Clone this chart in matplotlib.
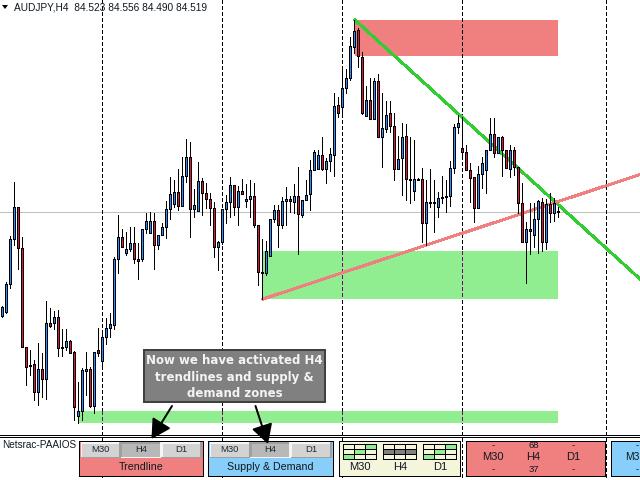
import matplotlib
matplotlib.use("Agg")
import matplotlib.pyplot as plt
from matplotlib.patches import Rectangle, FancyArrowPatch

# candles (smaller = higher price)
opens = [316, 312, 284, 239, 207, 248, 347, 365, 364, 392, 369, 379, 323, 323, 317, 347, 347, 341, 352, 416,
         411, 371, 369, 406, 350, 361, 337, 328, 325, 259, 237, 253, 249, 243, 259, 259, 229, 233, 221, 245,
         235, 227, 209, 204, 192, 206, 176, 157, 209, 211, 181, 193, 199, 208, 247, 242, 209, 202, 185, 207,
         191, 201, 199, 196, 225, 272, 273, 256, 219, 210, 225, 201, 199, 202, 196, 215, 200, 194, 170, 169,
         155, 169, 161, 155, 105, 107, 88, 78, 47, 30, 57, 116, 100, 119, 81, 137, 129, 113, 126, 169,
         158, 136, 179, 191, 179, 179, 223, 202, 202, 207, 198, 197, 196, 168, 127, 148, 152, 170, 177, 208,
         174, 170, 150, 134, 153, 137, 150, 169, 150, 167, 203, 242, 229, 235, 219, 202, 242, 204, 213, 211]
highs = [306, 282, 236, 182, 207, 237, 347, 350, 360, 343, 353, 301, 308, 311, 310, 329, 329, 340, 351, 382,
         368, 352, 367, 352, 328, 333, 318, 313, 257, 215, 229, 232, 227, 227, 243, 229, 213, 212, 213, 235,
         223, 201, 177, 180, 169, 157, 139, 142, 189, 162, 178, 183, 193, 202, 241, 209, 195, 177, 185, 186,
         179, 184, 180, 183, 225, 239, 241, 219, 205, 205, 197, 187, 196, 184, 167, 200, 180, 160, 150, 150,
         137, 158, 148, 93, 97, 70, 69, 37, 20, 28, 52, 86, 78, 78, 74, 93, 101, 101, 113, 136,
         123, 124, 137, 140, 178, 168, 180, 169, 180, 192, 176, 180, 161, 124, 115, 117, 145, 163, 177, 166,
         157, 150, 118, 118, 137, 136, 150, 145, 147, 167, 183, 222, 203, 203, 200, 198, 199, 193, 198, 207]
lows = [317, 313, 288, 245, 269, 347, 385, 375, 400, 405, 397, 399, 327, 329, 356, 356, 350, 353, 420, 423,
        420, 395, 407, 413, 356, 367, 344, 337, 329, 273, 247, 255, 251, 263, 279, 261, 233, 233, 269, 249,
        235, 238, 219, 207, 210, 206, 182, 237, 217, 211, 215, 208, 225, 257, 270, 244, 223, 217, 215, 225,
        194, 207, 217, 227, 285, 299, 275, 256, 222, 247, 228, 225, 212, 213, 254, 217, 200, 210, 170, 169,
        170, 183, 171, 176, 117, 113, 93, 80, 53, 67, 114, 116, 119, 119, 137, 167, 132, 132, 180, 169,
        195, 200, 203, 200, 180, 242, 245, 207, 232, 217, 203, 212, 206, 173, 133, 157, 170, 202, 222, 208,
        188, 193, 150, 157, 153, 176, 168, 177, 175, 213, 242, 283, 254, 247, 253, 251, 249, 222, 221, 217]
closes = [307, 284, 239, 207, 248, 347, 367, 366, 392, 369, 379, 323, 326, 317, 348, 348, 341, 353, 407, 411,
          370, 369, 406, 352, 353, 337, 328, 324, 259, 237, 247, 249, 243, 259, 261, 229, 221, 221, 245, 235,
          227, 209, 194, 192, 206, 176, 157, 209, 205, 181, 193, 199, 208, 247, 242, 209, 202, 185, 207, 191,
          194, 199, 196, 225, 272, 273, 251, 219, 210, 225, 201, 199, 201, 196, 214, 200, 195, 170, 152, 155,
          169, 161, 154, 106, 113, 88, 78, 46, 31, 56, 113, 100, 119, 81, 137, 128, 115, 126, 169, 159,
          137, 179, 180, 179, 180, 223, 202, 203, 203, 198, 197, 196, 168, 127, 123, 152, 170, 178, 208, 174,
          163, 150, 134, 153, 137, 150, 168, 150, 167, 203, 242, 229, 231, 219, 201, 242, 204, 213, 203, 212]

bar_step = 4
first_bar = 2
up_color = "#1e90ff"
down_color = "#dc143c"

# pixel columns / rows; thin lines snap to col + 0.5, so give them whole numbers
session_lines = [102, 222, 342, 462, 606]
last_price_row = 212

# zones as (left, right, top, bottom)
supply_zone = (355, 558, 20, 56)
demand_zone = (263, 558, 251, 299)
h4_low_zone = (79, 558, 411, 423)

green_trend_x, green_trend_y = [355, 640], [20, 279]
red_trend_x, red_trend_y = [263, 640], [299, 174.5]

header = "AUDJPY,H4  84.523 84.556 84.490 84.519"
note = "Now we have activated H4\ntrendlines and supply &\ndemand zones"
button_names = ["M30", "H4", "D1"]
pressed = "H4"

# signal cells of the small grids, 1 = bullish, 2 = neutral
grid_m30 = [[0, 0, 1], [0, 1, 0], [1, 0, 0]]
grid_h4 = [[0, 0, 0], [2, 2, 2], [0, 0, 0]]
grid_d1 = [[0, 0, 1], [0, 1, 0], [1, 0, 0]]

fig = plt.figure(figsize=(6.4, 4.8), dpi=100)
ax = fig.add_axes([0, 0, 1, 1])
ax.set_xlim(0, 640)
ax.set_ylim(480, 0)
ax.axis("off")

FONT = "Liberation Sans"
PX = 0.72  # one pixel in points


def fill_rect(x0, x1, y0, y1, color, edge="none", lw=0, z=1):
    ax.add_patch(Rectangle((x0, y0), x1 - x0, y1 - y0, facecolor=color, edgecolor=edge,
                           linewidth=lw, zorder=z, antialiased=False))


# zones first, everything else on top
fill_rect(supply_zone[0], supply_zone[1], supply_zone[2], supply_zone[3], "#f08080")
fill_rect(demand_zone[0], demand_zone[1], demand_zone[2], demand_zone[3], "#90ee90")
fill_rect(h4_low_zone[0], h4_low_zone[1], h4_low_zone[2], h4_low_zone[3], "#90ee90")

ax.axhline(last_price_row, color="#c0c0c0", lw=PX, zorder=2, antialiased=False)

for x in session_lines:
    ax.plot([x, x], [0, 480], color="black", lw=PX, zorder=2, antialiased=False,
            dashes=(3.5, 2.5))
    # dashes turn purple where they cross the green zones
    for zone in (demand_zone, h4_low_zone):
        if zone[0] < x < zone[1]:
            fill_rect(x, x + 1, zone[2], zone[3], "#90ee90", z=2.05)
            ax.plot([x, x], [zone[2], zone[3]], color="#800080", lw=PX, zorder=2.1,
                    antialiased=False, dashes=(3.5, 2.5))

ax.plot(green_trend_x, green_trend_y, color="#32cd32", lw=PX * 2, zorder=2.5, antialiased=False)
ax.plot(red_trend_x, red_trend_y, color="#f08080", lw=PX * 2, zorder=2.5, antialiased=False)

for i in range(len(opens)):
    x = first_bar + bar_step * i
    top = min(opens[i], closes[i])
    bottom = max(opens[i], closes[i])
    color = up_color if closes[i] < opens[i] else down_color
    ax.plot([x, x], [highs[i], lows[i]], color="black", lw=PX, zorder=3, antialiased=False)
    # black outline rectangle with the one pixel coloured core inside it
    fill_rect(x - 1, x + 2, top, bottom + 1, "black", z=4)
    if bottom - top > 1:
        fill_rect(x, x + 1, top + 1, bottom, color, z=4.1)

ax.fill([2, 8, 5], [5, 5, 9], color="black", zorder=5, lw=0)
ax.text(14, 7.5, header, fontsize=7.3, family=FONT, va="center", ha="left", color="#101820", zorder=6)

# callout box with the two arrows
fill_rect(144, 325, 350, 402, "#808080", edge="#404040", lw=PX * 2, z=6)
ax.text(234.5, 377, note, fontsize=8.5, family="DejaVu Sans", weight="bold", color="#f4f4f4", ha="center",
        va="center", linespacing=1.33, zorder=7)
for start, end in [((172, 406), (151.5, 439)), ((255.5, 406), (268, 444))]:
    ax.add_patch(FancyArrowPatch(start, end, arrowstyle="-|>,head_length=0.9,head_width=0.5",
                                 mutation_scale=13, color="black", lw=PX * 2, zorder=8,
                                 shrinkA=0, shrinkB=0))

# bottom panel
ax.plot([0, 640], [435, 435], color="black", lw=PX, zorder=5, antialiased=False)
ax.plot([0, 640], [437, 437], color="black", lw=PX, zorder=5, antialiased=False)
ax.plot([0, 640], [480, 480], color="black", lw=PX, zorder=5, antialiased=False, clip_on=False)
ax.text(2, 445.5, "Netsrac-PAAIOS", fontsize=7.2, family=FONT, va="center", ha="left", color="#101820", zorder=6)


def button_box(x0, x1, color, title):
    fill_rect(x0, x1, 441, 476, color, edge="black", lw=PX, z=6)
    width = (x1 - x0 - 3) / 3.0
    for n, name in enumerate(button_names):
        bx = x0 + 1.5 + n * width
        is_on = name == pressed
        light, dark = ("#f5f5f5", "#a0a0a0") if not is_on else ("#a0a0a0", "#f5f5f5")
        fill_rect(bx, bx + width, 442, 458, dark, z=7)
        fill_rect(bx, bx + width - 1.5, 442, 456.5, light, z=7.1)
        fill_rect(bx + 1.5, bx + width - 1.5, 443.5, 456.5, "#b8b8b8" if is_on else "#d3d3d3", z=7.2)
        ax.text(bx + width / 2, 450, name, fontsize=6.8, family=FONT, ha="center", va="center",
                color="#202830", zorder=8)
    ax.text((x0 + x1) / 2, 467, title, fontsize=7.7, family=FONT, ha="center", va="center",
            color="#101820", zorder=8)


button_box(79, 203, "#f08080", "Trendline")
button_box(208, 333, "#87cefa", "Supply & Demand")

# beige grids box
fill_rect(339, 460, 441, 476, "#f5f5dc", edge="black", lw=PX, z=6)
cell_colors = {0: "#f5f5dc", 1: "#90ee90", 2: "#808080"}
for gx, grid, label in [(343, grid_m30, "M30"), (383, grid_h4, "H4"), (423, grid_d1, "D1")]:
    for r in range(3):
        for c in range(3):
            fill_rect(gx + c * 11, gx + (c + 1) * 11, 444 + r * 5, 444 + (r + 1) * 5,
                      cell_colors[grid[r][c]], edge="black", lw=PX, z=7)
    ax.text(gx + 17, 467, label, fontsize=8, family=FONT, ha="center", va="center",
            color="#101820", zorder=8)

# red summary box
fill_rect(466, 605, 441, 476, "#f08080", edge="black", lw=PX, z=6)
summary_x = [493, 533.5, 573]
summary_top = ["-", "68", "-"]
summary_mid = ["M30", "H4", "D1"]
summary_low = ["-", "37", "-"]
for n in range(3):
    ax.text(summary_x[n], 445.5, summary_top[n], fontsize=6.8, family=FONT, ha="center", va="center", color="#101820", zorder=8)
    ax.text(summary_x[n], 457, summary_mid[n], fontsize=8, family=FONT, ha="center", va="center", color="#101820", zorder=8)
    ax.text(summary_x[n], 469.5, summary_low[n], fontsize=6.8, family=FONT, ha="center", va="center", color="#101820", zorder=8)

# blue box, runs past the right edge
fill_rect(611, 660, 441, 476, "#87cefa", edge="black", lw=PX, z=6)
ax.text(625.5, 457, "M3", fontsize=7.4, family=FONT, ha="left", va="center", color="#101820", zorder=8)
ax.text(637, 445.5, "-", fontsize=6.8, family=FONT, ha="center", va="center", color="#101820", zorder=8)
ax.text(637, 469.5, "-", fontsize=6.8, family=FONT, ha="center", va="center", color="#101820", zorder=8)

fig.savefig("out.png", dpi=100)
